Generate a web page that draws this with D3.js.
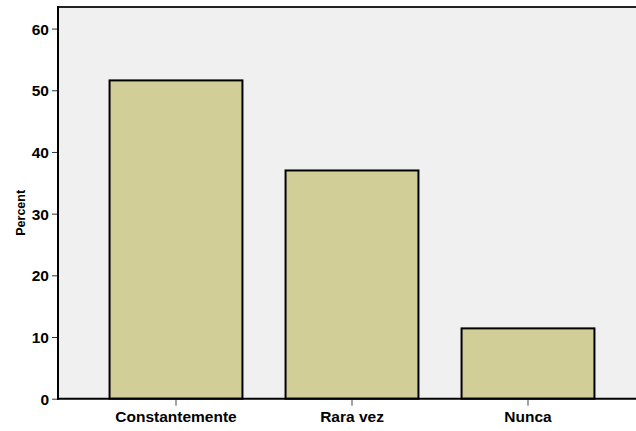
<!DOCTYPE html>
<html>
<head>
<meta charset="utf-8">
<script src="https://cdn.jsdelivr.net/npm/d3@7"></script>
<style>
  html, body { margin: 0; padding: 0; background: #fff; }
  svg { display: block; }
  text { font-family: "Liberation Sans", Arial, sans-serif; font-weight: bold; fill: #000; }
</style>
</head>
<body>
<svg id="chart" width="636" height="431"></svg>
<script>
// Frequency of response, in percent
const categories = ["Constantemente", "Rara vez", "Nunca"];
const percents = [51.6, 37.0, 11.4];
const yTicks = [0, 10, 20, 30, 40, 50, 60];

const plotLeft = 58, plotTop = 7, plotRight = 640, plotBottom = 398.7;

const svg = d3.select("#chart");

const x = d3.scaleBand()
  .domain(categories)
  .range([88, 616])
  .paddingInner(0.245)
  .paddingOuter(0.1225);

const y = d3.scaleLinear()
  .domain([0, 63.5])
  .range([plotBottom, plotTop]);

// plot background
svg.append("rect")
  .attr("x", plotLeft).attr("y", plotTop)
  .attr("width", plotRight - plotLeft).attr("height", plotBottom - plotTop)
  .attr("fill", "#f0f0f0");

// bars
svg.append("g").selectAll("rect")
  .data(categories)
  .join("rect")
  .attr("x", d => x(d))
  .attr("y", (d, i) => y(percents[i]))
  .attr("width", x.bandwidth())
  .attr("height", (d, i) => y(0) - y(percents[i]))
  .attr("fill", "#d2ce98")
  .attr("stroke", "#000")
  .attr("stroke-width", 2);

// top frame line
svg.append("line")
  .attr("x1", plotLeft).attr("x2", plotRight)
  .attr("y1", plotTop).attr("y2", plotTop)
  .attr("stroke", "#222").attr("stroke-width", 2);

// y axis
const yAxis = svg.append("g")
  .attr("transform", `translate(${plotLeft},0)`)
  .call(d3.axisLeft(y).tickValues(yTicks).tickSize(6).tickPadding(3).tickFormat(d3.format("d")));
yAxis.select(".domain").remove();
yAxis.selectAll(".tick line").attr("stroke", "#333").attr("stroke-width", 1);
yAxis.selectAll(".tick text").style("font-size", "15.5px").attr("dy", "0.36em");

svg.append("line")
  .attr("x1", plotLeft).attr("x2", plotLeft)
  .attr("y1", plotTop - 1).attr("y2", plotBottom + 1)
  .attr("stroke", "#000").attr("stroke-width", 2);

// x axis
const xAxis = svg.append("g")
  .attr("transform", `translate(0,${plotBottom})`)
  .call(d3.axisBottom(x).tickSize(7).tickPadding(5));
xAxis.select(".domain").remove();
xAxis.selectAll(".tick line").attr("stroke", "#444").attr("stroke-width", 1);
xAxis.selectAll(".tick text").style("font-size", "15.5px");

svg.append("line")
  .attr("x1", plotLeft - 1).attr("x2", plotRight)
  .attr("y1", plotBottom).attr("y2", plotBottom)
  .attr("stroke", "#000").attr("stroke-width", 2);

// y axis title
svg.append("text")
  .attr("transform", `translate(25,${(plotTop + plotBottom) / 2 + 10}) rotate(-90)`)
  .attr("text-anchor", "middle")
  .style("font-size", "12.5px")
  .text("Percent");
</script>
</body>
</html>
